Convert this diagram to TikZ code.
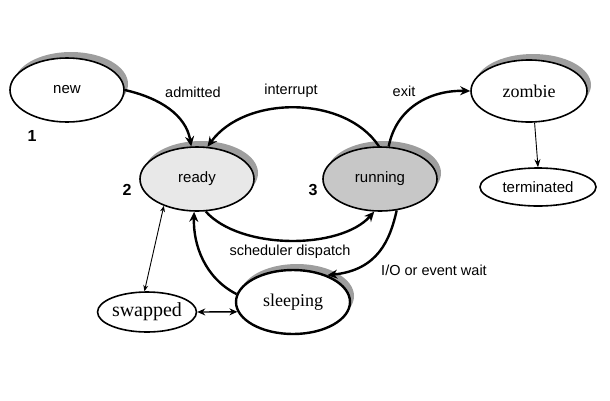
\documentclass[tikz,border=0pt]{standalone}
\usepackage{fontspec}
\setmainfont{Liberation Serif}
\setsansfont{Liberation Sans}
\usetikzlibrary{shapes.geometric,arrows.meta,shadows}
\begin{document}
\begin{tikzpicture}[x=1pt,y=-1pt,
  st/.style={ellipse,draw,line width=1.6pt,fill=white,inner sep=0pt,
    font=\sffamily\fontsize{15}{15}\selectfont},
  shad/.style={drop shadow={shadow xshift=4pt,shadow yshift=6pt,fill=black!38,opacity=1}},
  serifst/.style={font=\rmfamily\fontsize{18}{18}\selectfont},
  lbl/.style={font=\sffamily\fontsize{14.5}{14.5}\selectfont,inner sep=0pt},
  num/.style={font=\sffamily\bfseries\fontsize{16}{16}\selectfont,inner sep=0pt},
  big/.style={line width=2.4pt,-{Stealth[length=10pt,width=9pt]}},
  thin/.style={line width=0.9pt,{Stealth[length=6pt,width=5pt]}-{Stealth[length=6pt,width=5pt]}}]
\useasboundingbox (0,0) rectangle (610,400);
\fill[white] (0,0) rectangle (610,400);
% nodes
\node[st,shad,minimum width=114pt,minimum height=64pt] (new) at (67,90) {new};
\node[st,shad,fill=black!9,minimum width=114pt,minimum height=64pt] (ready) at (197,179) {ready};
\node[st,shad,fill=black!22,minimum width=114pt,minimum height=64pt] (running) at (380,179) {running};
\node[st,shad,serifst,minimum width=116pt,minimum height=62pt] (zombie) at (529,91) {zombie};
\node[st,minimum width=116pt,minimum height=38pt] (terminated) at (538,187) {terminated};
\node[st,shad,serifst,line width=2.4pt,minimum width=114pt,minimum height=64pt] (sleeping) at (293,302) {sleeping};
\node[st,serifst,font=\rmfamily\fontsize{20}{20}\selectfont,minimum width=90pt,minimum height=40pt] (swapped) at (147,312) {swapped};
% numbers
\node[num] (n1) at (32,136) {1};
\node[num] (n2) at (127,190) {2};
\node[num] (n3) at (313,190) {3};
% labels
\node[lbl] (ladm) at (193,92) {admitted};
\node[lbl] (lint) at (291,91) {interrupt};
\node[lbl] (lexit) at (404,91) {exit};
\node[lbl] (lsch) at (290,252) {scheduler dispatch};
\node[lbl] (lio) at (434,270) {I/O or event wait};
% connectors
\draw[big] (new.east) .. controls (160,98) and (186,115) .. (ready.100);
\draw[big] (running.92) .. controls (345,95) and (245,95) .. (ready.72);
\draw[big] (running.75) .. controls (396,108) and (430,90) .. (zombie.west);
\draw[big] (ready.-75) .. controls (240,250) and (340,250) .. (running.-100);
\draw[big] (running.-62) .. controls (390,240) and (378,270) .. (sleeping.38);
\draw[big] (sleeping.172) .. controls (205,278) and (193,245) .. (ready.-95);
\draw[thin] (swapped.97) -- (ready.-141);
\draw[line width=1.4pt,{Stealth[length=8pt,width=7pt]}-{Stealth[length=8pt,width=7pt]}] (swapped.east) -- (sleeping.190);
\draw[line width=0.9pt,-{Stealth[length=8pt,width=6pt]}] (zombie.-80) -- (terminated.north);
\end{tikzpicture}
\end{document}
